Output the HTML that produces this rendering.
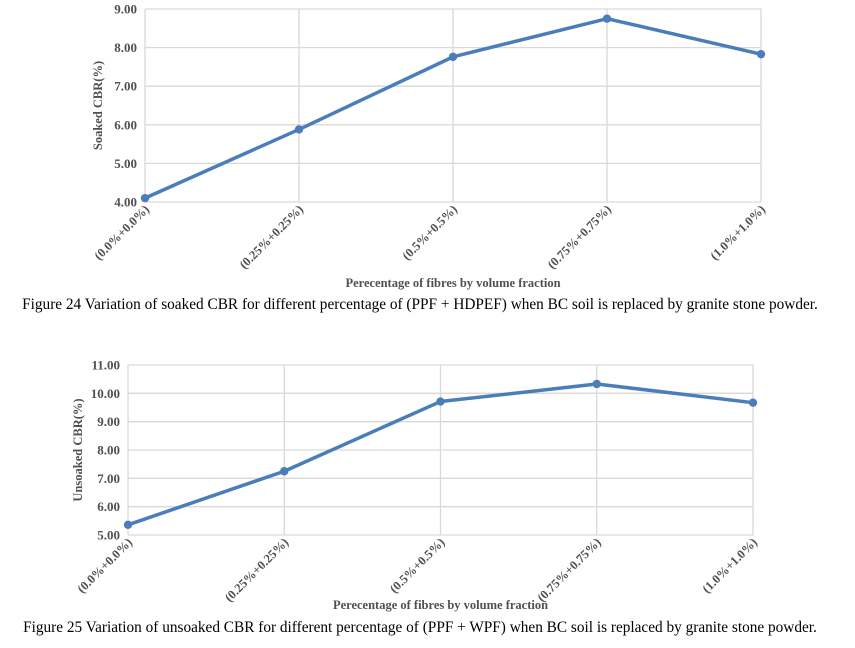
<!DOCTYPE html>
<html><head><meta charset="utf-8"><style>
html,body{margin:0;padding:0;background:#fff;}
body{width:855px;height:648px;overflow:hidden;font-family:"Liberation Serif",serif;}
svg{display:block;}
</style></head><body>
<svg id="s" width="855" height="648" xmlns="http://www.w3.org/2000/svg">
<g id="c1"></g>
<g id="c2"></g>
<text x="420" y="309" text-anchor="middle" font-size="15.3" fill="#000">Figure 24 Variation of soaked CBR for different percentage of (PPF + HDPEF) when BC soil is replaced by granite stone powder.</text>
<text x="420" y="632" text-anchor="middle" font-size="15.3" fill="#000">Figure 25 Variation of unsoaked CBR for different percentage of (PPF + WPF) when BC soil is replaced by granite stone powder.</text>
</svg>
<script>
const categories = ["(0.0%+0.0%)","(0.25%+0.25%)","(0.5%+0.5%)","(0.75%+0.75%)","(1.0%+1.0%)"];
const soakedValues = [4.10, 5.88, 7.76, 8.75, 7.83];
const soakedTicks = [4,5,6,7,8,9];
const unsoakedValues = [5.36, 7.25, 9.71, 10.33, 9.67];
const unsoakedTicks = [5,6,7,8,9,10,11];
const NS="http://www.w3.org/2000/svg";
function mk(parent,tag,attrs){const e=document.createElementNS(NS,tag);for(const k in attrs)e.setAttribute(k,attrs[k]);parent.appendChild(e);return e;}
function draw(g,opt){
  const {x0,x1,y0,y1,ticks,vals,ytitle,xtitle,xtY,ytX}=opt;
  const vmin=ticks[0],vmax=ticks[ticks.length-1];
  const xs=i=>x0+(x1-x0)*i/(categories.length-1);
  const ys=v=>y1-(y1-y0)*(v-vmin)/(vmax-vmin);
  ticks.forEach(t=>{
    const l=mk(g,'line',{x1:x0,x2:x1,y1:ys(t),y2:ys(t),stroke:'#d9d9d9','stroke-width':1.3});
    
    
    const tx=mk(g,'text',{x:x0-8,y:ys(t)+4.5,'text-anchor':'end','font-size':13,'font-weight':'bold',fill:'#505050'});
    tx.textContent=t.toFixed(2);
    
    
  });
  categories.forEach((c,i)=>{
    const l=mk(g,'line',{x1:xs(i),x2:xs(i),y1:y0,y2:y1,stroke:'#d9d9d9','stroke-width':1.3});
    
    
    const tx=mk(g,'text',{x:0,y:0,'text-anchor':'end','font-size':12.5,'font-weight':'bold',fill:'#505050',transform:`translate(${xs(i)+5},${y1+8}) rotate(-45)`});
    tx.textContent=c;
    
    
  });
  const pts=vals.map((v,i)=>xs(i)+','+ys(v)).join(' ');
  const pl=mk(g,'polyline',{points:pts,fill:'none',stroke:'#4a7ebb','stroke-width':3.5,'stroke-linejoin':'round'});
  
  
  vals.forEach((v,i)=>{
    const c=mk(g,'circle',{cx:xs(i),cy:ys(v),r:4.2,fill:'#4a7ebb'});
    
    
  });
  const yt=mk(g,'text',{x:0,y:0,'text-anchor':'middle','font-size':12.5,'font-weight':'bold',fill:'#505050',transform:`translate(${ytX},${(y0+y1)/2}) rotate(-90)`});
  yt.textContent=ytitle;
  
  
  const xt=mk(g,'text',{x:(x0+x1)/2,y:xtY,'text-anchor':'middle','font-size':12.5,'font-weight':'bold',fill:'#505050'});
  xt.textContent=xtitle;
  
  
}
draw(document.getElementById('c1'),{x0:145,x1:761,y0:9,y1:202,ticks:soakedTicks,vals:soakedValues,ytitle:'Soaked CBR(%)',xtitle:'Perecentage of fibres by volume fraction',xtY:287,ytX:102});
draw(document.getElementById('c2'),{x0:128,x1:753,y0:365,y1:535,ticks:unsoakedTicks,vals:unsoakedValues,ytitle:'Unsoaked  CBR(%)',xtitle:'Perecentage of fibres by  volume  fraction',xtY:609,ytX:82});
</script>
</body></html>
